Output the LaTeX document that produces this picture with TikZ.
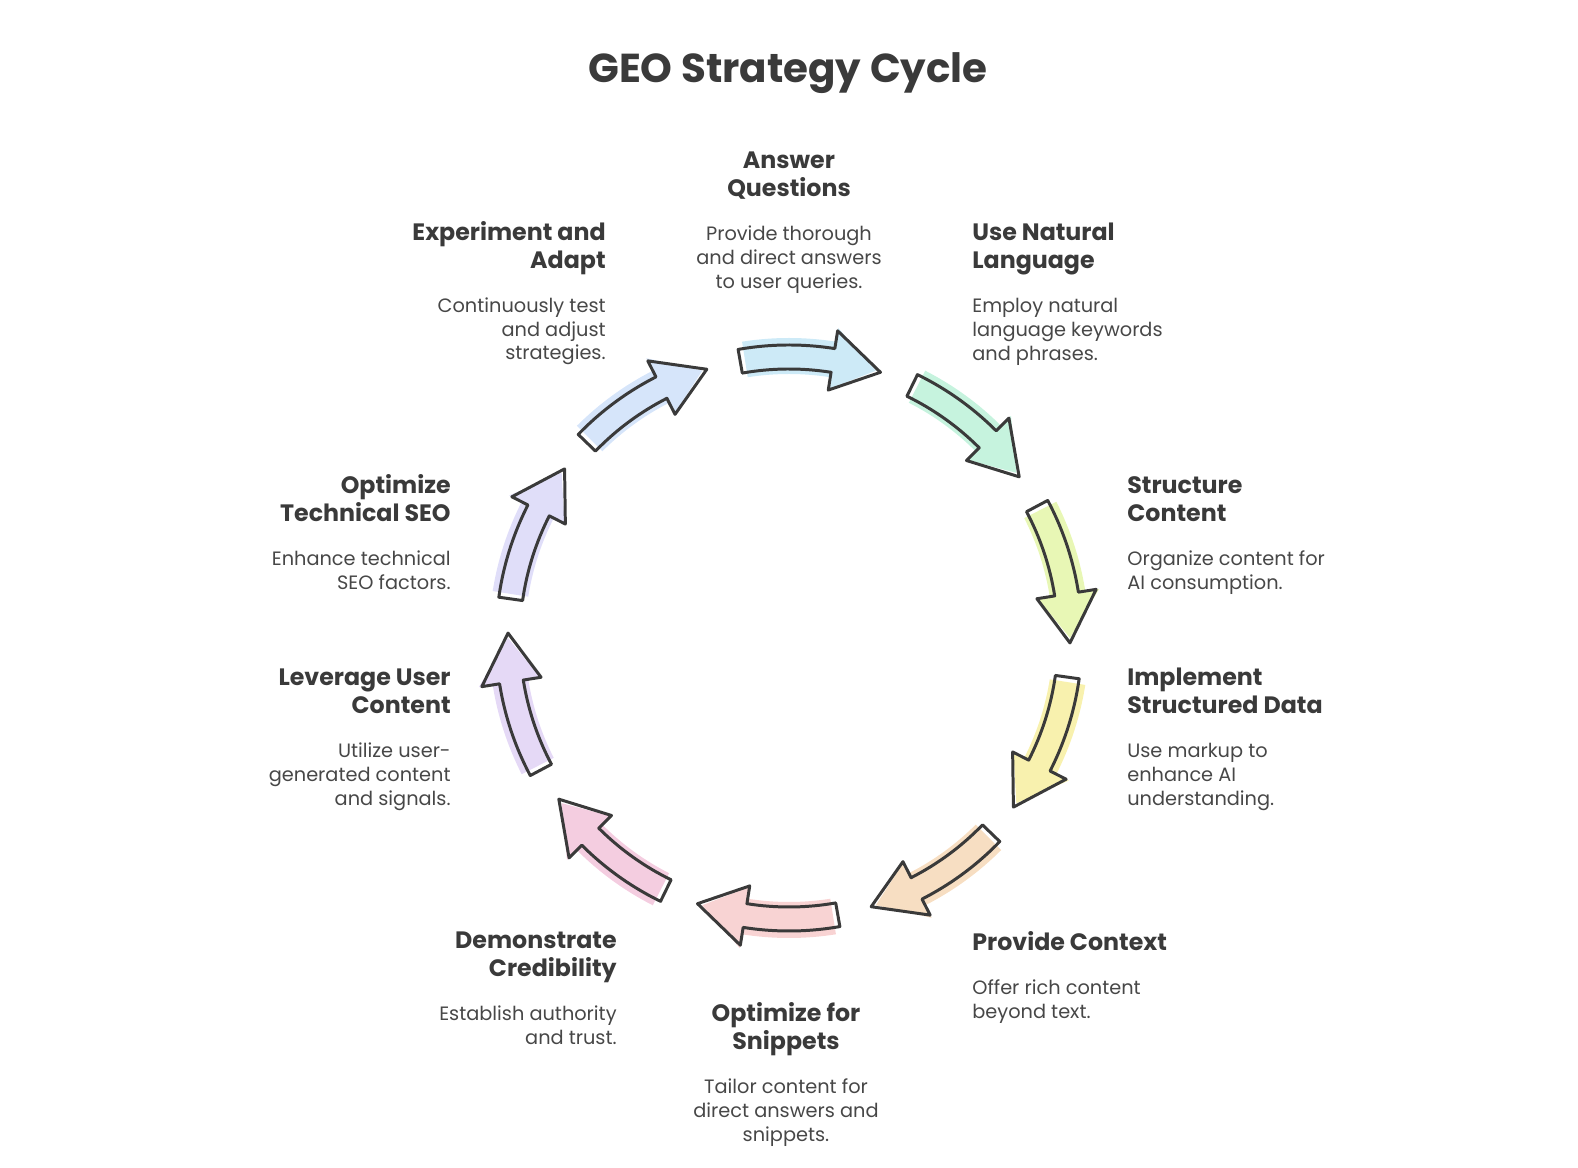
\documentclass[tikz,border=0pt]{standalone}
\usepackage{fontspec}
\setmainfont{Poppins}
\usetikzlibrary{positioning}
\definecolor{ink}{HTML}{3A3A3A}
\definecolor{softink}{HTML}{474747}
\definecolor{askblue}{HTML}{CDEAF7}
\definecolor{langmint}{HTML}{C6F3DE}
\definecolor{structlime}{HTML}{E8F7B5}
\definecolor{dataamber}{HTML}{F8F1AE}
\definecolor{contextpeach}{HTML}{F7DEC2}
\definecolor{snippetrose}{HTML}{F8D3D3}
\definecolor{credpink}{HTML}{F4CDE0}
\definecolor{userlilac}{HTML}{E5D9F6}
\definecolor{seoviolet}{HTML}{E0DEF9}
\definecolor{adaptblue}{HTML}{D6E5FA}

\begin{document}
\begin{tikzpicture}[x=0.02cm, y=0.02cm,
    heading/.style={font=\bfseries\fontsize{23}{27}\selectfont, text=ink, inner sep=0pt},
    steptitle/.style={font=\bfseries\fontsize{13.5}{15.9}\selectfont, text=ink, inner sep=0pt, text depth=4pt},
    stepdesc/.style={font=\fontsize{11}{13.6}\selectfont, text=softink, inner sep=0pt},
    cyclearrow/.pic={
        \fill[#1] (13:264) arc[start angle=13, end angle=-5, radius=264]
            -- (-5:252) -- (-14:281) -- (-5:314) -- (-5:300)
            arc[start angle=-5, end angle=13, radius=300] -- cycle;
        \draw[ink, line width=1.7pt, line join=round] (14:269) arc[start angle=14, end angle=-5, radius=269]
            -- (-5:251) -- (-15:281) -- (-5:311) -- (-5:293)
            arc[start angle=-5, end angle=14, radius=293] -- cycle;
    }
]
    \useasboundingbox (-789,-530) rectangle (789,638);

    \node[heading] (title) at (-1,565) {GEO Strategy Cycle};

    % arrows round the cycle
    \pic[rotate=86] {cyclearrow=askblue};
    \pic[rotate=50] {cyclearrow=langmint};
    \pic[rotate=14] {cyclearrow=structlime};
    \pic[rotate=-22] {cyclearrow=dataamber};
    \pic[rotate=-58] {cyclearrow=contextpeach};
    \pic[rotate=-94] {cyclearrow=snippetrose};
    \pic[rotate=-130] {cyclearrow=credpink};
    \pic[rotate=-166] {cyclearrow=userlilac};
    \pic[rotate=158] {cyclearrow=seoviolet};
    \pic[rotate=122] {cyclearrow=adaptblue};

    % step labels
    \node[steptitle, align=center, anchor=north] (askT) at (0,486) {Answer\\Questions};
    \node[stepdesc, align=center, below=0.43cm of askT] (askD) {Provide thorough\\and direct answers\\to user queries.};

    \node[steptitle, align=left, anchor=north west] (langT) at (183,415) {Use Natural\\Language};
    \node[stepdesc, align=left, below=0.43cm of langT.south west, anchor=north west] (langD) {Employ natural\\language keywords\\and phrases.};

    \node[steptitle, align=left, anchor=north west] (structT) at (338,162) {Structure\\Content};
    \node[stepdesc, align=left, below=0.43cm of structT.south west, anchor=north west] (structD) {Organize content for\\AI consumption.};

    \node[steptitle, align=left, anchor=north west] (dataT) at (338,-30) {Implement\\Structured Data};
    \node[stepdesc, align=left, below=0.43cm of dataT.south west, anchor=north west] (dataD) {Use markup to\\enhance AI\\understanding.};

    \node[steptitle, align=left, anchor=north west] (contextT) at (183,-293) {Provide Context};
    \node[stepdesc, align=left, below=0.43cm of contextT.south west, anchor=north west] (contextD) {Offer rich content\\beyond text.};

    \node[steptitle, align=center, anchor=north] (snipT) at (-3,-364) {Optimize for\\Snippets};
    \node[stepdesc, align=center, below=0.43cm of snipT] (snipD) {Tailor content for\\direct answers and\\snippets.};

    \node[steptitle, align=right, anchor=north east] (credT) at (-172,-294) {Demonstrate\\Credibility};
    \node[stepdesc, align=right, below=0.43cm of credT.south east, anchor=north east] (credD) {Establish authority\\and trust.};

    \node[steptitle, align=right, anchor=north east] (userT) at (-338,-31) {Leverage User\\Content};
    \node[stepdesc, align=right, below=0.43cm of userT.south east, anchor=north east] (userD) {Utilize user-\\generated content\\and signals.};

    \node[steptitle, align=right, anchor=north east] (seoT) at (-338,164) {Optimize\\Technical SEO};
    \node[stepdesc, align=right, below=0.43cm of seoT.south east, anchor=north east] (seoD) {Enhance technical\\SEO factors.};

    \node[steptitle, align=right, anchor=north east] (adaptT) at (-183,417) {Experiment and\\Adapt};
    \node[stepdesc, align=right, below=0.43cm of adaptT.south east, anchor=north east] (adaptD) {Continuously test\\and adjust\\strategies.};
\end{tikzpicture}
\end{document}
